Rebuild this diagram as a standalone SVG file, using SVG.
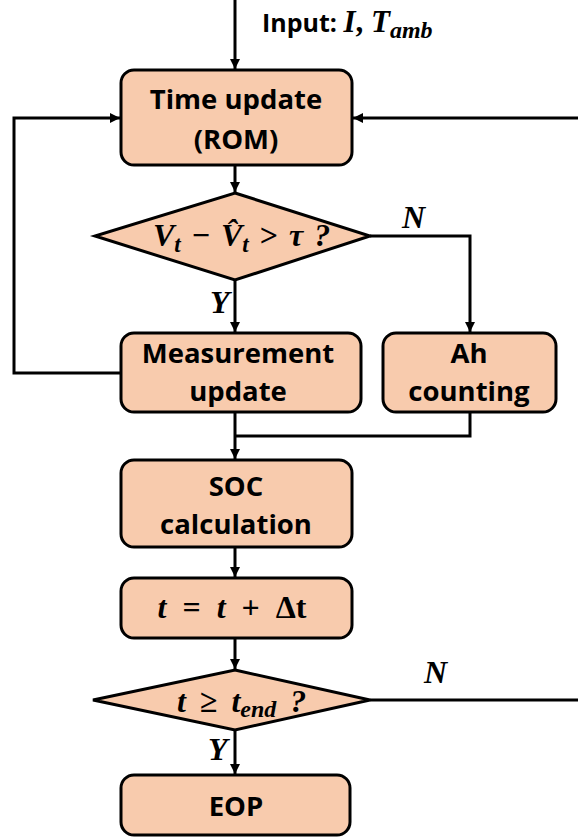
<svg xmlns="http://www.w3.org/2000/svg" width="578" height="839" viewBox="0 0 578 839">
<style>
.box{fill:#F8CBAD;stroke:#000;stroke-width:3}
.lbl{font-family:"Open Sans",Lato,sans-serif;font-weight:bold;font-size:27.5px;fill:#000;text-anchor:middle}
.math{font-family:"Liberation Serif","DejaVu Serif",serif;font-weight:bold;font-style:italic;font-size:32px;fill:#000;word-spacing:3px}
.c{fill:none;stroke:#000;stroke-width:3}
</style>
<defs>
<marker id="ah" viewBox="0 0 10 10" refX="10" refY="5" markerWidth="10" markerHeight="10" markerUnits="userSpaceOnUse" orient="auto">
<path d="M0,0 L10,5 L0,10 Z" fill="#000"/>
</marker>
</defs>
<rect width="578" height="839" fill="#fff"/>
<g id="connectors">
<path class="c" d="M235,0 V69" marker-end="url(#ah)"/>
<path class="c" d="M235,165 V192" marker-end="url(#ah)"/>
<path class="c" d="M235,280 V332" marker-end="url(#ah)"/>
<path class="c" d="M370,236 H470 V332" marker-end="url(#ah)"/>
<path class="c" d="M121,373 H14 V118 H120" marker-end="url(#ah)"/>
<path class="c" d="M578,118 H353" marker-end="url(#ah)"/>
<path class="c" d="M235,412 V459" marker-end="url(#ah)"/>
<path class="c" d="M470,412 V436 H235"/>
<path class="c" d="M235,547 V577" marker-end="url(#ah)"/>
<path class="c" d="M235,638 V669" marker-end="url(#ah)"/>
<path class="c" d="M370,700 H578"/>
<path class="c" d="M235,730 V774" marker-end="url(#ah)"/>
</g>
<g id="input-label">
<text x="262" y="32" style="font-family:'Open Sans',Lato,sans-serif;font-weight:bold;font-size:25px">Input: <tspan class="math" style="font-size:31px">I</tspan><tspan style="font-family:'Liberation Serif',serif;font-size:31px">, </tspan><tspan class="math" style="font-size:31px">T</tspan><tspan class="math" style="font-size:24px" dy="6">amb</tspan></text>
</g>
<g id="time-update">
<rect class="box" x="121" y="70" width="231" height="95" rx="13"/>
<text class="lbl" x="236" y="109">Time update</text>
<text class="lbl" x="236" y="149">(ROM)</text>
</g>
<g id="decision-voltage">
<polygon class="box" points="235,193 370,236 235,280 95,236"/>
<text class="math" x="153" y="246">V<tspan font-size="23" dy="6">t</tspan><tspan dy="-6" font-style="normal"> − </tspan>V̂<tspan font-size="23" dy="6">t</tspan><tspan dy="-6" font-style="normal"> &gt; </tspan>τ ?</text>
</g>
<g id="label-N1"><text class="math" x="402" y="228" font-size="29">N</text></g>
<g id="label-Y1"><text class="math" x="210" y="313" font-size="29">Y</text></g>
<g id="measurement-update">
<rect class="box" x="121" y="333" width="240" height="79" rx="13"/>
<text class="lbl" x="238" y="363">Measurement</text>
<text class="lbl" x="238" y="401">update</text>
</g>
<g id="ah-counting">
<rect class="box" x="383" y="333" width="173" height="79" rx="13"/>
<text class="lbl" x="469" y="363">Ah</text>
<text class="lbl" x="469" y="401">counting</text>
</g>
<g id="soc-calculation">
<rect class="box" x="121" y="460" width="231" height="87" rx="13"/>
<text class="lbl" x="236" y="496">SOC</text>
<text class="lbl" x="236" y="534">calculation</text>
</g>
<g id="time-step">
<rect class="box" x="121" y="578" width="231" height="60" rx="13"/>
<text class="math" x="232" y="618" text-anchor="middle" style="word-spacing:8px">t <tspan font-style="normal">=</tspan> t <tspan font-style="normal">+ Δt</tspan></text>
</g>
<g id="decision-end">
<polygon class="box" points="235,670 370,700 235,730 93,700"/>
<text class="math" x="177" y="712" style="word-spacing:6px">t <tspan font-style="normal">≥</tspan> t<tspan font-size="24" dy="5">end</tspan><tspan dy="-5"> ?</tspan></text>
</g>
<g id="label-N2"><text class="math" x="424" y="683" font-size="29">N</text></g>
<g id="label-Y2"><text class="math" x="208" y="760" font-size="29">Y</text></g>
<g id="eop">
<rect class="box" x="121" y="775" width="229" height="60" rx="13"/>
<text class="lbl" x="236" y="816">EOP</text>
</g>
</svg>
